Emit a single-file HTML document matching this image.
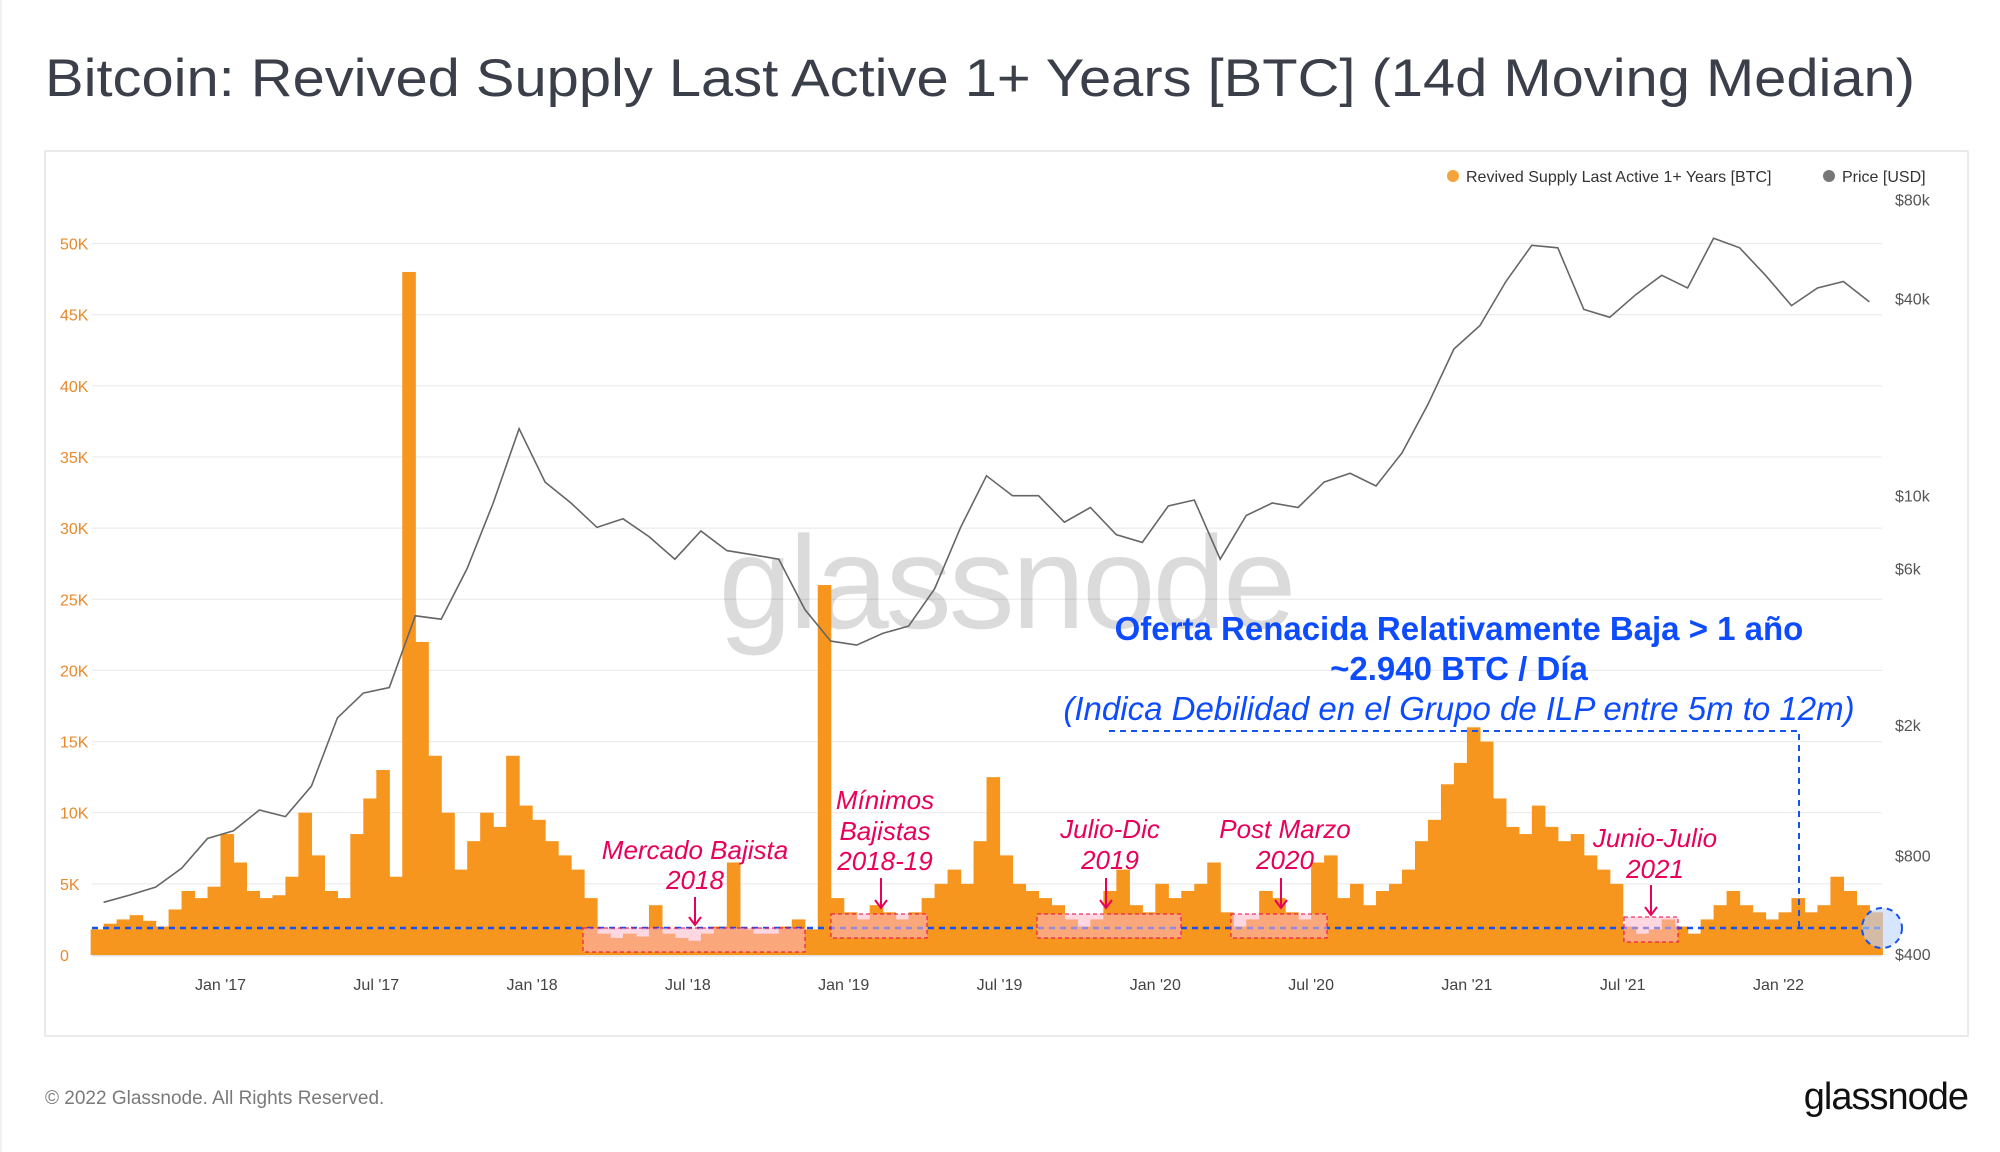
<!DOCTYPE html>
<html><head><meta charset="utf-8"><style>
html,body{margin:0;padding:0;background:#fff;width:2000px;height:1152px;overflow:hidden}
svg{display:block;font-family:"Liberation Sans",sans-serif}
</style></head><body>
<svg id="chart" width="2000" height="1152" viewBox="0 0 2000 1152">
<rect x="0" y="0" width="2000" height="1152" fill="#fff"/>
<line x1="1" y1="0" x2="1" y2="1152" stroke="#e6e6e6"/>
<text x="45" y="96" font-size="53" fill="#3b3f4a" textLength="1870" lengthAdjust="spacingAndGlyphs">Bitcoin: Revived Supply Last Active 1+ Years [BTC] (14d Moving Median)</text>
<rect x="45" y="151" width="1923" height="885" fill="#fff" stroke="#e4e4e4" stroke-width="1.5"/>
<g id="grid"></g>
<text x="1006" y="628" font-size="132" fill="#000" fill-opacity="0.14" text-anchor="middle" letter-spacing="-3">glassnode</text>
<g id="bars"></g>
<g id="price"></g>
<g id="axes"></g>
<g id="legend">
<circle cx="1453" cy="176" r="6" fill="#f7a33b"/>
<text x="1466" y="182" font-size="16" fill="#333">Revived Supply Last Active 1+ Years [BTC]</text>
<circle cx="1829" cy="176" r="6" fill="#777"/>
<text x="1842" y="182" font-size="16" fill="#333">Price [USD]</text>
</g>
<g id="annotations" font-style="italic" fill="#e8005a" font-size="26" text-anchor="middle">
<line x1="92" y1="928" x2="1882" y2="928" stroke="#1552f0" stroke-width="2.5" stroke-dasharray="6,5"/>
<polyline points="1109,731 1799,731 1799,928" fill="none" stroke="#1552f0" stroke-width="2" stroke-dasharray="6,5"/>
<circle cx="1882" cy="928" r="20" fill="#bcd3ff" fill-opacity="0.6" stroke="#1552f0" stroke-width="2" stroke-dasharray="6,5"/>
<rect x="583" y="928" width="222" height="24" fill="#ffb6c8" fill-opacity="0.55" stroke="#e8004a" stroke-dasharray="4,3"/>
<rect x="831" y="914" width="96" height="24" fill="#ffb6c8" fill-opacity="0.55" stroke="#e8004a" stroke-dasharray="4,3"/>
<rect x="1037" y="914" width="144" height="24" fill="#ffb6c8" fill-opacity="0.55" stroke="#e8004a" stroke-dasharray="4,3"/>
<rect x="1231" y="914" width="96" height="24" fill="#ffb6c8" fill-opacity="0.55" stroke="#e8004a" stroke-dasharray="4,3"/>
<rect x="1624" y="917" width="54" height="25" fill="#ffb6c8" fill-opacity="0.55" stroke="#e8004a" stroke-dasharray="4,3"/>
<g stroke="#e8005a" stroke-width="2" fill="none">
<path d="M695,897 V925 M689,917 L695,925 L701,917"/>
<path d="M881,878 V908 M875,900 L881,908 L887,900"/>
<path d="M1106,878 V908 M1100,900 L1106,908 L1112,900"/>
<path d="M1281,878 V908 M1275,900 L1281,908 L1287,900"/>
<path d="M1651,885 V915 M1645,907 L1651,915 L1657,907"/>
</g>
<text x="695" y="859">Mercado Bajista</text>
<text x="695" y="889">2018</text>
<text x="885" y="809">Mínimos</text>
<text x="885" y="840">Bajistas</text>
<text x="885" y="870">2018-19</text>
<text x="1110" y="838">Julio-Dic</text>
<text x="1110" y="869">2019</text>
<text x="1285" y="838">Post Marzo</text>
<text x="1285" y="869">2020</text>
<text x="1655" y="847">Junio-Julio</text>
<text x="1655" y="878">2021</text>
<text x="1459" y="640" font-style="normal" font-weight="bold" font-size="33" fill="#0d4bff">Oferta Renacida Relativamente Baja &gt; 1 año</text>
<text x="1459" y="680" font-style="normal" font-weight="bold" font-size="33" fill="#0d4bff">~2.940 BTC / Día</text>
<text x="1459" y="720" font-size="33" fill="#0d4bff">(Indica Debilidad en el Grupo de ILP entre 5m to 12m)</text>
</g>
<text x="45" y="1104" font-size="19" fill="#7a7a7a">© 2022 Glassnode. All Rights Reserved.</text>
<text x="1968" y="1109" font-size="38" fill="#111" text-anchor="end" letter-spacing="-1">glassnode</text>
</svg>
<script>
// Semi-monthly values (K BTC), Aug 2016 .. Apr 2022
const supplyK = [1.8,2.2,2.5,2.8,2.4,2.0,3.2,4.5,4.0,4.8,
8.5,6.5,4.5,4.0,4.2,5.5,10.0,7.0,4.5,4.0,8.5,11.0,13.0,5.5,48.0,22.0,14.0,10.0,6.0,8.0,10.0,9.0,14.0,10.5,
9.5,8.0,7.0,6.0,4.0,1.5,1.2,1.5,1.3,3.5,1.5,1.2,1.0,1.5,2.0,6.5,1.8,1.5,1.5,2.0,2.5,1.8,26.0,4.0,
3.0,2.5,3.5,3.0,2.5,3.0,4.0,5.0,6.0,5.0,8.0,12.5,7.0,5.0,4.5,4.0,3.5,2.5,2.0,2.5,4.5,6.0,3.5,3.0,
5.0,4.0,4.5,5.0,6.5,3.0,2.0,2.5,4.5,4.0,3.0,2.5,6.5,7.0,4.0,5.0,3.5,4.5,5.0,6.0,8.0,9.5,12.0,13.5,
16.0,15.0,11.0,9.0,8.5,10.5,9.0,8.0,8.5,7.0,6.0,5.0,2.0,1.5,1.8,2.5,2.0,1.5,2.5,3.5,4.5,3.5,3.0,2.5,
3.0,4.0,3.0,3.5,5.5,4.5,3.5,3.0];
// Monthly price (USD), Aug 2016 .. Apr 2022
const priceUSD = [575,605,640,730,900,
950,1100,1050,1300,2100,2500,2600,4300,4200,6000,9500,16000,
11000,9500,8000,8500,7500,6400,7800,6800,6600,6400,4500,3600,
3500,3800,4000,5200,8000,11500,10000,10000,8300,9200,7600,7200,
9300,9700,6400,8700,9500,9200,11000,11700,10700,13500,19000,28000,
33000,45000,58000,57000,37000,35000,41000,47000,43000,61000,57000,47000,
38000,43000,45000,39000];
const leftTicks = [0,5,10,15,20,25,30,35,40,45,50];
const leftTickLabels = ["0","5K","10K","15K","20K","25K","30K","35K","40K","45K","50K"];
const priceTicks = [400,800,2000,6000,10000,40000,80000];
const priceTickLabels = ["$400","$800","$2k","$6k","$10k","$40k","$80k"];
const xTickTimes = [2017,2017.5,2018,2018.5,2019,2019.5,2020,2020.5,2021,2021.5,2022];
const xTickLabels = ["Jan '17","Jul '17","Jan '18","Jul '18","Jan '19","Jul '19","Jan '20","Jul '20","Jan '21","Jul '21","Jan '22"];

const NS="http://www.w3.org/2000/svg";
const START=2016+7/12;
const xs=t=>220.5+(t-2017)*311.6;
const yL=k=>955-k*14.23;
const yP=p=>954-98.7*Math.log2(p/400);
function mk(tag,attrs,parent){const e=document.createElementNS(NS,tag);for(const k in attrs)e.setAttribute(k,attrs[k]);parent.appendChild(e);return e;}
const grid=document.getElementById('grid'),bars=document.getElementById('bars'),pr=document.getElementById('price'),ax=document.getElementById('axes');
leftTicks.forEach((v,i)=>{
  const g=mk('line',{x1:92,x2:1882,y1:yL(v),y2:yL(v),stroke:'#ececec','stroke-width':1.2},grid);
  
  
  const t=mk('text',{x:60,y:yL(v)+6,'font-size':16,fill:'#e8892b'},ax);
  t.textContent=leftTickLabels[i];
  
  
});
priceTicks.forEach((v,i)=>{
  const t=mk('text',{x:1895,y:yP(v)+6,'font-size':16,fill:'#555'},ax);
  t.textContent=priceTickLabels[i];
  
  
});
xTickTimes.forEach((v,i)=>{
  const t=mk('text',{x:xs(v),y:990,'font-size':16,fill:'#444','text-anchor':'middle'},ax);
  t.textContent=xTickLabels[i];
  
  
});
const bw=311.6/24;
supplyK.forEach((v,i)=>{
  const x=xs(START+i/24);
  const r=mk('rect',{x:x,y:yL(v),width:bw+0.6,height:955-yL(v),fill:'#f7961f'},bars);
  
  
});
const pts=priceUSD.map((p,i)=>xs(START+(i+0.5)/12).toFixed(1)+','+yP(p).toFixed(1)).join(' ');
const pl=mk('polyline',{points:pts,fill:'none',stroke:'#666','stroke-width':1.6},pr);


const base=mk('line',{x1:92,x2:1882,y1:956,y2:956,stroke:'#ddd'},ax);


</script>
</body></html>
